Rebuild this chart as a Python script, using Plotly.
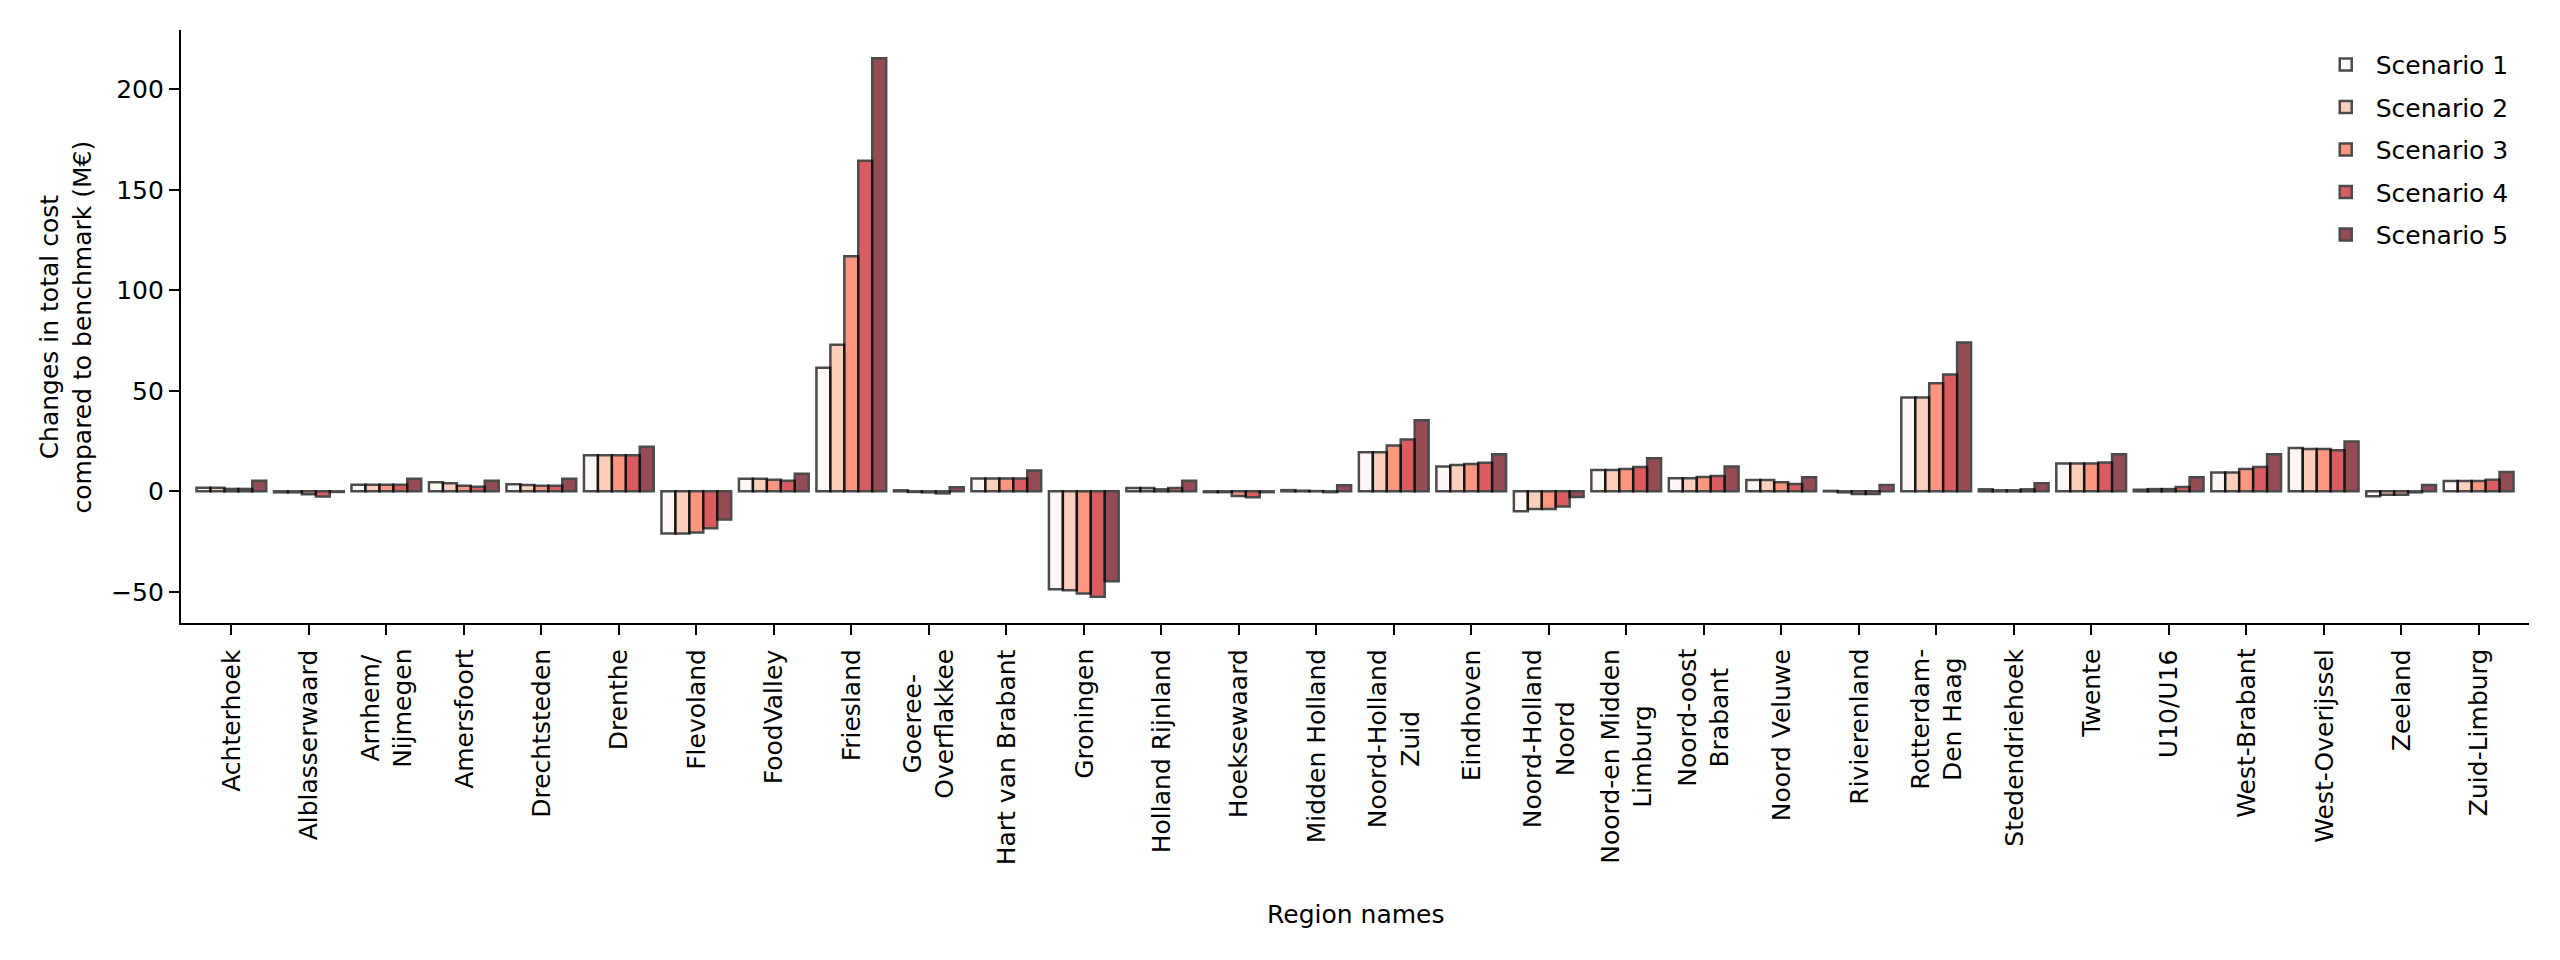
import plotly.graph_objects as go

# regions along the x axis
regions = [
    "Achterhoek", "Alblasserwaard", "Arnhem/<br>Nijmegen", "Amersfoort", "Drechtsteden",
    "Drenthe", "Flevoland", "FoodValley", "Friesland", "Goeree-<br>Overflakkee",
    "Hart van Brabant", "Groningen", "Holland Rijnland", "Hoeksewaard", "Midden Holland",
    "Noord-Holland<br>Zuid", "Eindhoven", "Noord-Holland<br>Noord", "Noord-en Midden<br>Limburg",
    "Noord-oost<br>Brabant", "Noord Veluwe", "Rivierenland", "Rotterdam-<br>Den Haag",
    "Stedendriehoek", "Twente", "U10/U16", "West-Brabant", "West-Overijssel", "Zeeland",
    "Zuid-Limburg",
]

# changes in total cost compared to benchmark (M€)
scenario_1 = [1.8, -0.5, 3.3, 4.5, 3.5, 17.9, -21.0, 6.3, 61.5, 0.5,
              6.4, -48.7, 1.6, -0.4, 0.6, 19.5, 12.4, -9.9, 10.6, 6.5,
              5.6, 0.2, 46.7, 1.0, 13.9, 0.8, 9.4, 21.5, -2.5, 5.1]
scenario_2 = [1.8, -0.5, 3.3, 4.0, 3.1, 17.9, -21.0, 6.3, 72.9, -0.3,
              6.4, -49.2, 1.6, -0.4, 0.3, 19.5, 13.1, -8.8, 10.6, 6.5,
              5.6, -0.5, 46.7, 0.5, 13.9, 1.1, 9.4, 21.0, -1.7, 5.1]
scenario_3 = [1.2, -1.5, 3.3, 2.8, 2.8, 17.9, -20.5, 5.8, 117.0, -0.5,
              6.4, -50.8, 1.0, -2.3, 0.1, 22.8, 13.6, -8.8, 11.1, 7.1,
              4.5, -1.3, 53.8, 0.5, 13.9, 1.1, 11.1, 21.0, -1.7, 5.1]
scenario_4 = [1.2, -2.6, 3.3, 2.3, 2.8, 17.9, -18.4, 5.3, 164.5, -1.0,
              6.4, -52.4, 1.6, -3.0, -0.4, 25.8, 14.2, -7.5, 12.1, 7.6,
              3.6, -1.3, 58.1, 1.0, 14.4, 2.1, 12.1, 20.4, -0.5, 5.8]
scenario_5 = [5.3, -0.3, 6.3, 5.3, 6.3, 22.2, -14.0, 8.8, 215.5, 2.0,
              10.4, -44.7, 5.3, -0.4, 3.0, 35.3, 18.5, -2.8, 16.4, 12.4,
              7.0, 3.1, 74.0, 4.0, 18.4, 7.0, 18.4, 24.8, 3.1, 9.6]

series = [scenario_1, scenario_2, scenario_3, scenario_4, scenario_5]
names = ["Scenario 1", "Scenario 2", "Scenario 3", "Scenario 4", "Scenario 5"]
colors = ["#fff5f0", "#fcbba1", "#fb6a4a", "#cb181d", "#67000d"]

FONT = "DejaVu Sans"
FS = 25

fig = go.Figure()
for vals, name, col in zip(series, names, colors):
    fig.add_trace(go.Bar(
        x=list(range(len(regions))), y=vals, name=name, legendgroup=name,
        marker=dict(color=col, line=dict(color="black", width=2.5)),
        opacity=0.7,
    ))

fig.update_layout(
    width=2560, height=960,
    margin=dict(l=173, r=39, t=22, b=345),
    paper_bgcolor="white", plot_bgcolor="white",
    font=dict(family=FONT, size=FS, color="black"),
    barmode="group", bargap=0.1, bargroupgap=0,
    showlegend=True,
    legend=dict(x=0.9935, y=0.98, xanchor="right", yanchor="top",
                bgcolor="rgba(0,0,0,0)", font=dict(size=FS),
                tracegroupgap=7, itemwidth=50),
)

fig.update_xaxes(
    range=[-0.65, 29.65],
    tickmode="array", tickvals=list(range(len(regions))),
    showticklabels=False,
    showline=True, linecolor="black", linewidth=2.2,
    ticks="outside", ticklen=10, tickwidth=2.2, tickcolor="black",
    showgrid=False, zeroline=False, mirror=False,
)
fig.update_yaxes(
    range=[-65.5, 229.5],
    tickmode="array", tickvals=[-50, 0, 50, 100, 150, 200],
    showline=True, linecolor="black", linewidth=2.2,
    ticks="outside", ticklen=10, tickwidth=2.2, tickcolor="black",
    showgrid=False, zeroline=False, mirror=False,
)

# rotated region labels, lines centred like the original
for i, lab in enumerate(regions):
    fig.add_annotation(
        text=lab, xref="x", yref="paper", x=i, y=0,
        xanchor="center", yanchor="top", yshift=-24,
        textangle=-90, align="center", showarrow=False,
        font=dict(family=FONT, size=FS),
    )

# axis titles
fig.add_annotation(
    text="Changes in total cost<br>compared to benchmark (M€)",
    xref="paper", yref="paper", x=-0.049, y=0.5,
    xanchor="center", yanchor="middle", textangle=-90,
    showarrow=False, font=dict(family=FONT, size=FS),
)
fig.add_annotation(
    text="Region names",
    xref="paper", yref="paper", x=0.5, y=-0.4924,
    xanchor="center", yanchor="middle",
    showarrow=False, font=dict(family=FONT, size=FS),
)

fig.write_html("out.html")
